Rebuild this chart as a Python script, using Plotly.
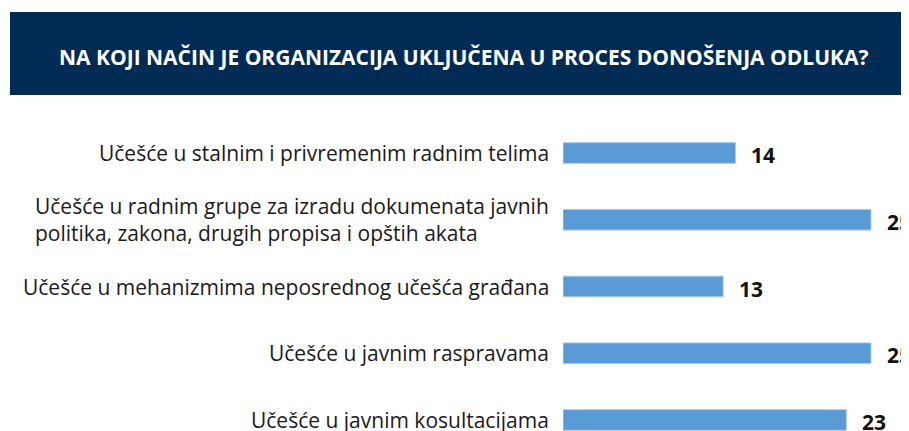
import plotly.graph_objects as go

# data
categories = [
    "Učešće u stalnim i privremenim radnim telima",
    "Učešće u radnim grupe za izradu dokumenata javnih<br>politika, zakona, drugih propisa i opštih akata",
    "Učešće u mehanizmima neposrednog učešća građana",
    "Učešće u javnim raspravama",
    "Učešće u javnim kosultacijama",
]
values = [14, 25, 13, 25, 23]
title_text = "NA KOJI NAČIN JE ORGANIZACIJA UKLJUČENA U PROCES DONOŠENJA ODLUKA?"

# the page puts the figure 8px in from the top-left corner
OFF = 8
W, H = 909, 431
L, T, B = 563 - OFF, 100 - OFF, 0
plot_w, plot_h = W - L, H - T - B
FONT = "Open Sans, Noto Sans, sans-serif"

fig = go.Figure()

fig.add_trace(go.Bar(
    x=values,
    y=categories,
    orientation="h",
    width=0.31,
    marker=dict(color="#5B9BD5", line=dict(color="#A9CBEA", width=1)),
    hoverinfo="skip",
))

annotations = []
# category labels, right aligned next to the axis, lines left aligned
for cat in categories:
    annotations.append(dict(
        x=0, y=cat, xref="x", yref="y",
        text=cat, showarrow=False,
        xanchor="right", yanchor="middle", align="left",
        xshift=-12,
        font=dict(family=FONT, size=21, color="#1a1a1a"),
    ))
# value labels
for cat, v in zip(categories, values):
    annotations.append(dict(
        x=v, y=cat, xref="x", yref="y",
        text=f"<b>{v}</b>", showarrow=False,
        xanchor="left", yanchor="middle",
        xshift=14, yshift=-2,
        font=dict(family=FONT, size=21, color="#111111"),
    ))


# title banner (positions given in page pixels)
def px_x(px):
    return (px - OFF - L) / plot_w


def px_y(py):
    return (H - B - (py - OFF)) / plot_h


annotations.append(dict(
    x=px_x(464), y=px_y(57), xref="paper", yref="paper",
    text=f"<b>{title_text}</b>", showarrow=False,
    xanchor="center", yanchor="middle",
    font=dict(family=FONT, size=21, color="#ffffff"),
))

fig.update_layout(
    width=W, height=H,
    margin=dict(l=L, r=0, t=T, b=B, pad=0),
    paper_bgcolor="white",
    plot_bgcolor="white",
    showlegend=False,
    xaxis=dict(range=[0, plot_w / 12.32], visible=False, fixedrange=True),
    yaxis=dict(
        range=[4 + (11 + OFF) / 66.75, -53 / 66.75],
        showticklabels=False, showgrid=False, zeroline=False,
        fixedrange=True,
    ),
    shapes=[dict(
        type="rect", xref="paper", yref="paper",
        x0=px_x(10), x1=px_x(W + 20), y0=px_y(95), y1=px_y(12),
        fillcolor="#002B54", line=dict(width=0), layer="below",
    )],
    annotations=annotations,
)

fig.write_html("out.html")
